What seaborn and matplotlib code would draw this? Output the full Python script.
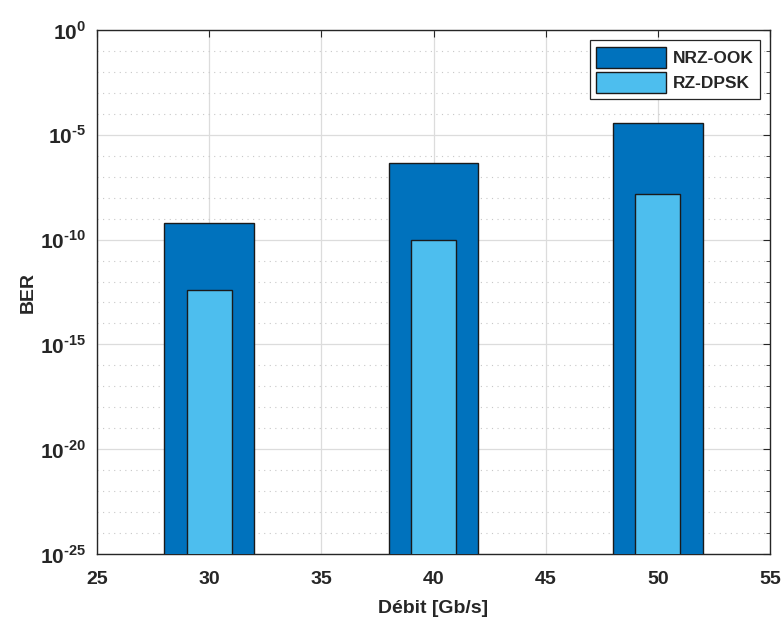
import numpy as np
import pandas as pd
import matplotlib
matplotlib.use("Agg")
import matplotlib.pyplot as plt
import seaborn as sns
from matplotlib.patches import Patch
from matplotlib.ticker import FixedLocator, NullFormatter

# data
debit = [30, 40, 50]
ber_nrz_ook = [6e-10, 4.5e-7, 3.6e-5]
ber_rz_dpsk = [4e-13, 1e-10, 1.5e-8]
series_names = ["NRZ-OOK", "RZ-DPSK"]
series_colors = ["#0072BD", "#4DBEEE"]
y_major = [1e-25, 1e-20, 1e-15, 1e-10, 1e-5, 1e0]
y_major_labels = ["-25", "-20", "-15", "-10", "-5", "0"]
x_ticks = [25, 30, 35, 40, 45, 50, 55]

sns.set_style("white")
plt.rcParams["font.family"] = ["Liberation Sans", "DejaVu Sans"]
plt.rcParams["mathtext.fontset"] = "custom"
plt.rcParams["mathtext.rm"] = "Liberation Sans:bold"
plt.rcParams["mathtext.bf"] = "Liberation Sans:bold"

df_nrz = pd.DataFrame({"debit": debit, "ber": ber_nrz_ook})
df_rz = pd.DataFrame({"debit": debit, "ber": ber_rz_dpsk})

fig = plt.figure(figsize=(7.83, 6.19), dpi=100)
ax = fig.add_axes([0.1239, 0.105, 0.8595, 0.8465])

ax.set_yscale("log")
sns.barplot(data=df_nrz, x="debit", y="ber", native_scale=True, width=0.4,
            color=series_colors[0], saturation=1, edgecolor="#1a1a1a",
            linewidth=1.0, errorbar=None, ax=ax, zorder=3)
sns.barplot(data=df_rz, x="debit", y="ber", native_scale=True, width=0.2,
            color=series_colors[1], saturation=1, edgecolor="#1a1a1a",
            linewidth=1.0, errorbar=None, ax=ax, zorder=4)

ax.set_xlim(25, 55)
ax.set_ylim(1e-25, 1e0)
ax.set_xticks(x_ticks)
ax.set_xticklabels([str(t) for t in x_ticks], fontsize=14, fontweight="bold",
                   color="#262626")
ax.yaxis.set_major_locator(FixedLocator(y_major))
ax.yaxis.set_minor_locator(FixedLocator(10.0 ** np.arange(-25, 1)))
ax.yaxis.set_minor_formatter(NullFormatter())
ax.set_yticklabels([r"$10^{\text{%s}}$" % s for s in y_major_labels],
                   fontsize=15, color="#262626")

ax.grid(True, which="major", color="#dcdcdc", linewidth=0.9, zorder=0)
ax.grid(True, which="minor", axis="y", color="#c8c8c8", linestyle=(0, (1, 4)),
        linewidth=0.8, zorder=0)
ax.set_axisbelow(True)

ax.tick_params(which="both", direction="in", top=True, right=True,
               color="#262626", length=5)
ax.tick_params(which="minor", length=3)
ax.tick_params(axis="x", pad=12)
ax.tick_params(axis="y", pad=8)
for sp in ax.spines.values():
    sp.set_color("#262626")
    sp.set_linewidth(1.0)
    sp.set_visible(True)

ax.set_xlabel("Débit [Gb/s]", fontsize=14, fontweight="bold", color="#262626",
              labelpad=9)
ax.set_ylabel("BER", fontsize=14, fontweight="bold", color="#262626",
              labelpad=2)

handles = [Patch(facecolor=c, edgecolor="#1a1a1a", linewidth=1.0)
           for c in series_colors]
leg = ax.legend(handles, series_names, loc="upper right",
                prop={"weight": "bold", "size": 12.5}, fancybox=False,
                edgecolor="#262626", framealpha=1, handlelength=4.0,
                handleheight=1.5, handletextpad=0.4, borderpad=0.35,
                labelspacing=0.25, borderaxespad=0.6)
leg.get_frame().set_linewidth(0.9)

fig.savefig("out.png", dpi=100)
